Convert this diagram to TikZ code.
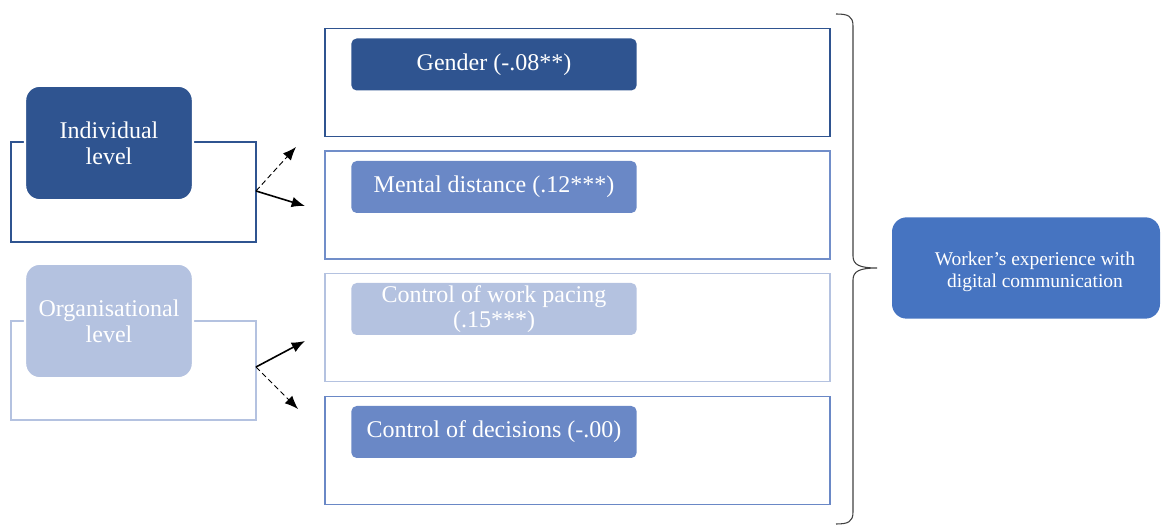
\documentclass[tikz,border=0pt]{standalone}
\usepackage{fontspec}
\setmainfont{Liberation Serif}
\newfontfamily\tnr{Liberation Serif}
\usetikzlibrary{arrows.meta}
\definecolor{cdark}{HTML}{2F5490}
\definecolor{cmid}{HTML}{6A88C6}
\definecolor{clight}{HTML}{B4C2E0}
\definecolor{cwork}{HTML}{4674C1}
\begin{document}
\begin{tikzpicture}[x=0.75pt,y=-0.75pt,
  levelbox/.style={rounded corners=11pt, draw=white, line width=1.8pt, text=white, align=center,
    font=\tnr\fontsize{18}{19.5}\selectfont, inner sep=0pt},
  rowbox/.style={draw, line width=1.3pt, inner sep=0pt, minimum width=379pt, minimum height=81pt},
  labelbox/.style={rounded corners=4pt, text=white, align=center, inner sep=0pt,
    minimum width=214pt, minimum height=39pt, font=\tnr\fontsize{18}{19}\selectfont},
  solidarrow/.style={-{Latex[length=10pt,width=8pt]}, line width=1.2pt, black},
  dasharrow/.style={-{Latex[length=10pt,width=8pt]}, line width=0.7pt, dash pattern=on 4pt off 2.5pt, black}
]
\useasboundingbox (0,0) rectangle (1161,530);
% left outline rectangles
\draw[cdark, line width=1.1pt] (11,142) rectangle (256,242);
\draw[clight, line width=1.1pt] (11,321) rectangle (256,420);
\coordinate (o1) at (256,191);
\coordinate (o2) at (256,367);
% level boxes
\node[levelbox, fill=cdark, minimum width=126pt, minimum height=86pt] (ind) at (109,143) {Individual\\level};
\node[levelbox, fill=clight, minimum width=126pt, minimum height=86pt] (org) at (109,321) {Organisational\\level};
% row boxes
\node[rowbox, draw=cdark] (b1) at (577.5,82.5) {};
\node[rowbox, draw=cmid!95!white] (b2) at (577.5,205) {};
\node[rowbox, draw=clight] (b3) at (577.5,327.5) {};
\node[rowbox, draw=cmid] (b4) at (577.5,450.5) {};
% labels
\node[labelbox, fill=cdark] (l1) at (494,64.5) {Gender (-.08**)};
\node[labelbox, fill=cmid] (l2) at (494,187) {Mental distance (.12***)};
\node[labelbox, fill=clight] (l3) at (494,309) {Control of work pacing\\(.15***)};
\node[labelbox, fill=cmid] (l4) at (494,432) {Control of decisions (-.00)};
% arrows
\coordinate (t1) at (296,147);
\coordinate (t2) at (305,206);
\coordinate (t3) at (305,341);
\coordinate (t4) at (298,409);
\draw[dasharrow] (o1) -- (t1);
\draw[solidarrow] (o1) -- (t2);
\draw[solidarrow] (o2) -- (t3);
\draw[dasharrow] (o2) -- (t4);
% brace
\draw[black!75, line width=0.8pt] (836,14) .. controls (848,14) and (853,16) .. (853,26)
  -- (853,256) .. controls (853,265) and (860,268) .. (877,268)
  .. controls (860,268) and (853,271) .. (853,280)
  -- (853,512) .. controls (853,522) and (848,524) .. (836,524);
% worker box
\node[rounded corners=11pt, fill=cwork, minimum width=201pt, minimum height=76pt, inner sep=0pt] (w) at (1026,268) {};
\node[text=white, align=center, font=\tnr\fontsize{14.6}{16.5}\selectfont, inner sep=0pt] (wt) at (1035,272) {Worker’s experience with\\digital communication};
\end{tikzpicture}
\end{document}
